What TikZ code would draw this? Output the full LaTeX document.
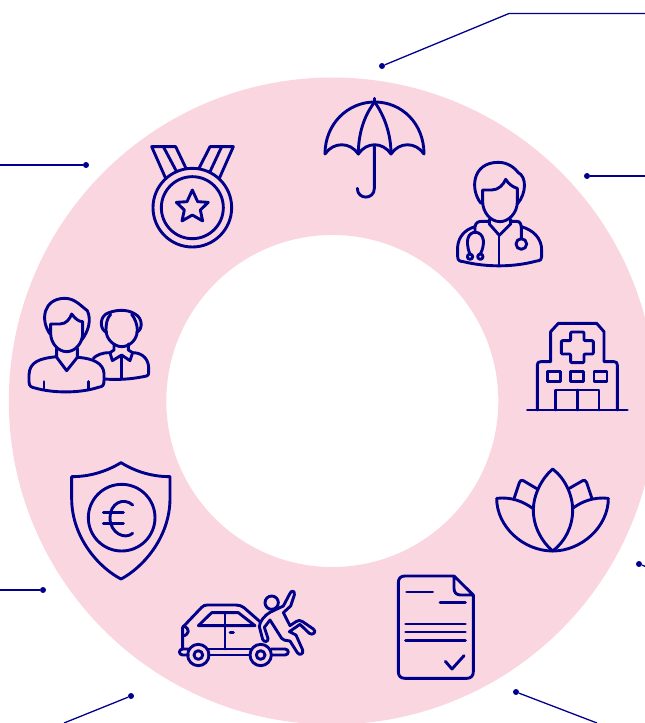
\documentclass[tikz,border=0pt]{standalone}
\definecolor{navyline}{HTML}{00008B}
\definecolor{ringpink}{HTML}{FAD7E0}
\tikzset{
  icon/.style={draw=navyline,line width=2.9pt,line join=round,line cap=round},
  leader/.style={draw=navyline,line width=1.3pt},
  pin/.style={circle,fill=navyline,inner sep=0pt,minimum size=6pt},
}
\begin{document}
\begin{tikzpicture}[x=1bp,y=-1bp]
\useasboundingbox (0,0) rectangle (645,723);
\clip (0,0) rectangle (645,723);
\fill[ringpink,even odd rule] (332.3,401) circle (323.5) (332.3,401) circle (166);
% connectors
\node[pin] (pa) at (382,66) {};
\coordinate (pak) at (509,13.5);
\coordinate (pae) at (645,13.5);
\draw[leader] (pa) -- (pak) -- (pae);
\node[pin] (pb) at (587,176) {};
\coordinate (pbe) at (645,176);
\draw[leader] (pb) -- (pbe);
\node[pin] (pc) at (639,564) {};
\coordinate (pce) at (647,567);
\draw[leader] (pc) -- (pce);
\node[pin] (pd) at (516,692) {};
\coordinate (pde) at (597,723);
\draw[leader] (pd) -- (pde);
\node[pin] (pe) at (131,696) {};
\coordinate (pee) at (64,723);
\draw[leader] (pe) -- (pee);
\node[pin] (pf) at (43,590) {};
\coordinate (pfe) at (0,590);
\draw[leader] (pf) -- (pfe);
\node[pin] (pg) at (86,165) {};
\coordinate (pge) at (0,165);
\draw[leader] (pg) -- (pge);
% umbrella and doctor
\begin{scope}[shift={(300,80)},scale=1/3]
\draw[icon] (224,55) -- (224,66);
\draw[icon] (75,222) .. controls (75,130) and (145,66) .. (224,66) .. controls (305,66) and (372,130) .. (372,222);
\draw[icon] (75,222) .. controls (100,185) and (150,185) .. (175,222) .. controls (200,185) and (248,185) .. (273,222) .. controls (298,185) and (347,185) .. (372,222);
\draw[icon] (224,66) .. controls (190,110) and (175,165) .. (175,222);
\draw[icon] (224,66) .. controls (255,110) and (273,165) .. (273,222);
\draw[icon] (223,200) -- (223,325) .. controls (223,360) and (172,360) .. (172,325);
% doctor
\draw[icon] (543,370) .. controls (510,330) and (515,247) .. (595,247) .. controls (625,247) and (645,265) .. (655,278) .. controls (680,290) and (680,340) .. (652,372);
\draw[icon] (548,330) -- (575,330) .. controls (595,330) and (610,315) .. (617,298) .. controls (625,312) and (640,322) .. (652,325) -- (652,365) .. controls (652,400) and (625,425) .. (600,425) .. controls (570,425) and (548,395) .. (548,365) -- cycle;
\draw[icon] (568,418) -- (568,432) -- (598,466) -- (632,432) -- (632,418);
\draw[icon] (525,440) .. controls (490,450) and (475,475) .. (473,500) -- (473,530) .. controls (473,542) and (480,544) .. (490,545) .. controls (560,562) and (640,562) .. (710,543) .. controls (722,542) and (725,538) .. (725,530) -- (725,510) .. controls (725,475) and (700,450) .. (664,440);
\draw[icon] (597,466) -- (597,556);
\draw[icon] (525,455) -- (525,440) .. controls (527,428) and (535,424) .. (545,424) -- (568,424);
\draw[icon] (632,424) -- (650,424) .. controls (660,424) and (664,432) .. (664,445) -- (664,476);
\draw[icon] (664,492) circle (16);
\draw[icon] (510,522) .. controls (500,500) and (502,480) .. (504,475) .. controls (510,450) and (545,450) .. (550,480) .. controls (552,490) and (548,510) .. (541,522);
\draw[icon] (510,530) circle (8);
\draw[icon] (541,530) circle (8);
\end{scope}
% medal and large person
\begin{scope}[shift={(10,130)},scale=1/3]
\draw[icon] (547,233) circle (118);
\draw[icon] (547,233) circle (93);
\draw[icon] (547,180) -- (563,215) -- (595,217) -- (571,240) -- (578,273) -- (547,255) -- (516,273) -- (523,240) -- (499,217) -- (531,215) -- cycle;
\draw[icon] (467,145) -- (425,50) -- (497,50) -- (528,115);
\draw[icon] (460,50) -- (500,125);
\draw[icon] (567,115) -- (600,50) -- (670,50) -- (628,145);
\draw[icon] (635,50) -- (600,125);
\draw[icon] (120,612) .. controls (90,570) and (100,505) .. (165,505) .. controls (195,505) and (215,530) .. (232,542) .. controls (245,570) and (235,605) .. (215,630);
\draw[icon] (122,582) -- (150,582) .. controls (170,582) and (180,565) .. (185,552) .. controls (195,565) and (205,575) .. (218,575) -- (218,610) .. controls (218,640) and (195,665) .. (170,665) .. controls (145,665) and (122,640) .. (122,610) -- cycle;
\draw[icon] (140,655) -- (140,682) -- (170,722) -- (202,682) -- (202,655);
\draw[icon] (140,680) .. controls (90,685) and (58,695) .. (57,735) -- (57,755) .. controls (57,770) and (65,772) .. (75,774) .. controls (130,790) and (210,790) .. (265,772) .. controls (280,770) and (282,765) .. (282,750) -- (282,730) .. controls (280,700) and (250,685) .. (202,682);
\draw[icon] (102,755) -- (102,778);
\draw[icon] (235,755) -- (235,778);
\end{scope}
% small person
\begin{scope}[shift={(90,300)},scale=1/3]
\draw[icon] (50,97) .. controls (30,90) and (28,55) .. (48,42) .. controls (70,30) and (110,25) .. (135,42) .. controls (160,55) and (158,90) .. (140,97);
\draw[icon] (62,43) .. controls (50,55) and (48,75) .. (48,90) .. controls (48,120) and (75,140) .. (95,140) .. controls (118,140) and (142,120) .. (142,90) .. controls (142,75) and (135,55) .. (125,43);
\draw[icon] (72,132) -- (72,150) -- (60,158) -- (67,182) -- (95,165) -- (120,182) -- (128,158) -- (115,150) -- (115,132);
\draw[icon] (95,170) -- (95,237);
\draw[icon] (60,158) .. controls (35,158) and (20,165) .. (10,175);
\draw[icon] (128,158) .. controls (160,158) and (176,180) .. (176,205) -- (176,218) .. controls (176,228) and (170,228) .. (160,230) .. controls (120,238) and (80,240) .. (44,237);
\end{scope}
% hospital and lotus
\begin{scope}[shift={(480,310)},scale=1/3]
\draw[icon] (172,300) -- (172,165) .. controls (172,158) and (175,155) .. (182,155) -- (212,155) -- (212,65) -- (235,40) -- (350,40) -- (372,65) -- (372,155) -- (402,155) .. controls (409,155) and (412,158) .. (412,165) -- (412,300);
\draw[icon] (142,300) -- (442,300);
\draw[icon] (203,185) rectangle (241,214);
\draw[icon] (272,185) rectangle (311,214);
\draw[icon] (342,185) rectangle (381,214);
\draw[icon] (227,300) -- (227,240) -- (357,240) -- (357,300);
\draw[icon] (292,240) -- (292,300);
\draw[icon,rounded corners=1pt] (272,66) -- (312,66) -- (312,92) -- (340,92) -- (340,132) -- (312,132) -- (312,158) -- (272,158) -- (272,132) -- (244,132) -- (244,92) -- (272,92) -- cycle;
\draw[icon] (218,477) .. controls (185,505) and (160,555) .. (160,600) .. controls (160,650) and (185,695) .. (218,723) .. controls (255,695) and (278,650) .. (278,600) .. controls (278,555) and (255,505) .. (218,477) -- cycle;
\draw[icon] (218,723) .. controls (130,723) and (50,650) .. (50,565) .. controls (95,560) and (130,575) .. (158,595);
\draw[icon] (218,723) .. controls (305,723) and (385,650) .. (385,565) .. controls (340,560) and (305,575) .. (278,595);
\draw[icon] (103,563) -- (118,518) .. controls (120,510) and (125,510) .. (130,512) -- (172,537);
\draw[icon] (335,563) -- (320,518) .. controls (318,510) and (312,510) .. (308,512) -- (268,535);
\end{scope}
% shield
\begin{scope}[shift={(60,455)},scale=1/3]
\draw[icon] (183,23) .. controls (135,52) and (85,65) .. (35,65) -- (35,130) .. controls (35,250) and (120,340) .. (183,372) .. controls (245,340) and (330,250) .. (330,130) -- (330,65) .. controls (280,65) and (230,52) .. (183,23) -- cycle;
\draw[icon] (185,188) circle (100);
\draw[icon] (218,150) .. controls (190,125) and (150,145) .. (150,188) .. controls (150,235) and (195,255) .. (218,235);
\draw[icon] (130,172) -- (190,172);
\draw[icon] (130,205) -- (190,205);
\end{scope}
% car, person, document
\begin{scope}[shift={(170,570)},scale=1/3]
\draw[icon] (38,237) -- (38,172) -- (95,112) .. controls (100,107) and (105,105) .. (112,105) -- (198,105) .. controls (208,105) and (215,108) .. (222,113) -- (270,155);
\draw[icon] (40,168) .. controls (62,175) and (58,195) .. (38,198);
\draw[icon] (85,167) -- (125,128) -- (205,128) -- (255,167) -- cycle;
\draw[icon] (165,128) -- (165,237);
\draw[icon] (180,187) -- (190,187);
\draw[icon] (85,255) circle (32);
\draw[icon] (85,255) circle (13);
\draw[icon] (272,255) circle (32);
\draw[icon] (272,255) circle (13);
\draw[icon] (55,237) -- (38,237) .. controls (25,237) and (25,255) .. (38,255) -- (55,255);
\draw[icon] (115,237) -- (242,237);
\draw[icon] (115,255) -- (240,255);
\draw[icon] (303,237) -- (345,237) .. controls (358,237) and (358,255) .. (345,255) -- (305,255);
\draw[icon] (305,98) circle (20);
\draw[icon] (360,70) -- (340,108) -- (300,127) .. controls (285,135) and (268,155) .. (268,170) -- (278,208) .. controls (282,218) and (296,216) .. (294,205) -- (283,172) -- (300,150) -- (335,205) .. controls (340,212) and (345,210) .. (360,213) -- (382,248) .. controls (388,258) and (402,252) .. (398,240) -- (378,195) -- (358,185) -- (390,163) -- (418,190) .. controls (428,198) and (442,185) .. (430,177) -- (398,155) .. controls (390,150) and (385,150) .. (378,155) -- (360,167) -- (340,128) -- (362,108) -- (373,75) .. controls (376,62) and (364,60) .. (360,70) -- cycle;
\draw[icon] (852,18) -- (705,18) .. controls (692,18) and (685,25) .. (685,38) -- (685,305) .. controls (685,318) and (692,325) .. (705,325) -- (890,325) .. controls (903,325) and (910,318) .. (910,305) -- (910,75) -- (852,18) -- (852,55) .. controls (852,68) and (860,75) .. (872,75) -- (910,75);
\draw[icon] (710,66) -- (788,66);
\draw[icon] (810,98) -- (886,98);
\draw[icon] (707,162) -- (886,162);
\draw[icon] (707,186) -- (886,186);
\draw[icon] (707,211) -- (886,211);
\draw[icon] (826,274) -- (846,297) -- (882,257);
\end{scope}
\end{tikzpicture}
\end{document}
